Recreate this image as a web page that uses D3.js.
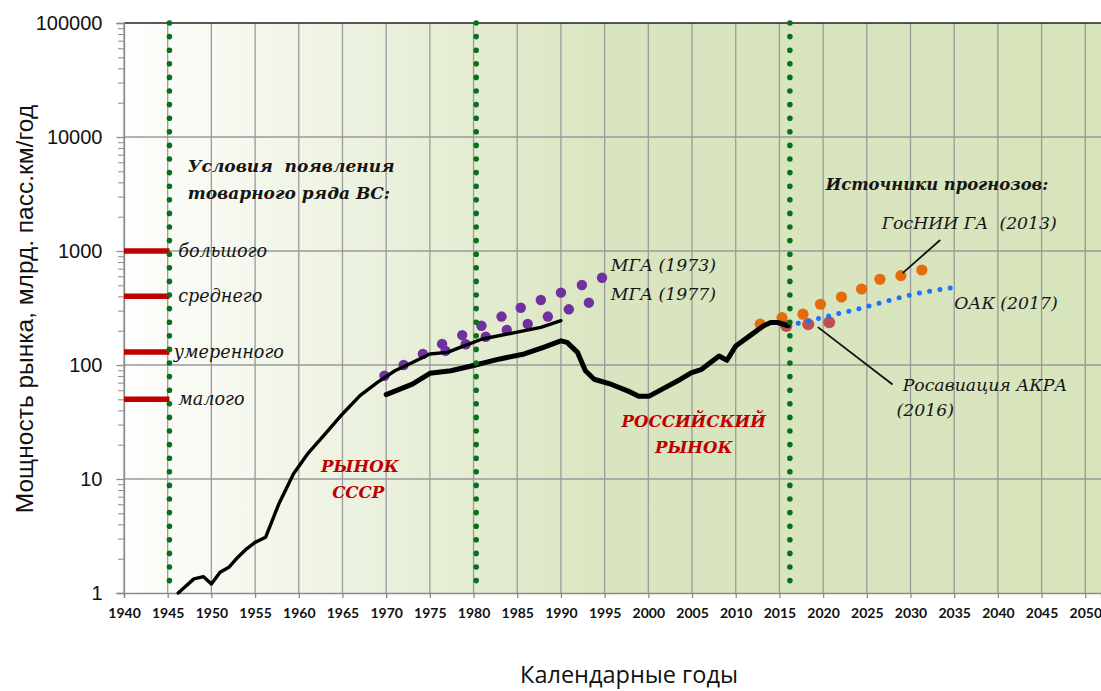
<!DOCTYPE html>
<meta charset="utf-8">
<style>
  body { margin: 0; background: #fff; }
  text { white-space: pre; }
</style>

<body>
  <script src="https://d3js.org/d3.v7.min.js"></script>
  <script>
    // axis ticks
    var yearTicks = d3.range(1940, 2051, 5);
    var valueTicks = [1, 10, 100, 1000, 10000, 100000];

    // USSR market (thin black line)
    var ussrYears = [1946.2, 1948, 1949.1, 1950, 1951, 1952, 1953, 1954, 1955, 1956.2, 1957.7, 1959.4, 1961, 1963, 1965, 1967, 1969, 1971, 1973, 1975, 1977, 1979, 1981, 1985, 1987.7, 1990];
    var ussrValues = [1.0, 1.33, 1.39, 1.2, 1.52, 1.68, 2.05, 2.43, 2.78, 3.08, 6.0, 11.1, 16.6, 24.8, 37.2, 53.8, 70.5, 89, 105, 125, 129, 148, 169, 194, 214, 245];

    // Russian market (thick black line)
    var russiaYears = [1970, 1973, 1975, 1977.4, 1980, 1983, 1985.8, 1988, 1990, 1990.7, 1991.9, 1992.8, 1993.8, 1995.8, 1997.7, 1998.9, 2000.1, 2001.7, 2003.7, 2004.9, 2006.1, 2007.3, 2008.1, 2009, 2010, 2011.6, 2013.2, 2014, 2014.8, 2016];
    var russiaValues = [55, 68, 84.5, 89, 99, 113, 125, 143, 163, 158, 129, 89, 75, 67.5, 59, 53.3, 53.3, 62, 75, 85.5, 91.6, 108, 120, 110, 147, 180, 221, 236, 236, 221];

    // forecasts
    var mga1973Years = [1969.8, 1972, 1974.2, 1976.4, 1978.7, 1980.9, 1983.2, 1985.4, 1987.7, 1990, 1992.4, 1994.7];
    var mga1973Values = [80.5, 100, 125, 153, 183, 221, 266, 318, 372, 431, 503, 583];
    var mga1977Years = [1976.8, 1979.1, 1981.4, 1983.8, 1986.2, 1988.5, 1990.9, 1993.2];
    var mga1977Values = [133, 152, 177, 203, 229, 266, 308, 352];
    var gosniiYears = [2012.8, 2015.3, 2017.7, 2019.7, 2022.1, 2024.4, 2026.5, 2028.9, 2031.3];
    var gosniiValues = [228, 260, 279, 341, 395, 464, 565, 608, 681];
    var rosavYears = [2015.8, 2018.3, 2020.7];
    var rosavValues = [220, 228, 237];
    var oakYears = [2016, 2020, 2025, 2030, 2035.3];
    var oakValues = [222, 262, 325, 412, 482];

    // product line conditions
    var levelNames = ["большого", "среднего", "умеренного", "малого"];
    var levelValues = [1000, 400, 130, 50];

    // period borders
    var borderYears = [1945.2, 1980.3, 2016.2];

    var margin = {top: 23, right: 0, bottom: 98, left: 124},
      width = 1101 - margin.left - margin.right,
      height = 691 - margin.top - margin.bottom;

    var svg = d3.select("body").append("svg")
      .attr("width", 1101)
      .attr("height", 691);

    var x = d3.scaleLinear().domain([1940, 2051.8]).range([0, width]),
      y = d3.scaleLog().domain([1, 100000]).range([height, 0]);

    var grad = svg.append("defs").append("linearGradient")
      .attr("id", "bg").attr("x1", 0).attr("x2", 1).attr("y1", 0).attr("y2", 0);
    grad.append("stop").attr("offset", 0).attr("stop-color", "#fefefd");
    grad.append("stop").attr("offset", 0.5).attr("stop-color", "#d9e5c0");
    grad.append("stop").attr("offset", 1).attr("stop-color", "#d7e4bc");

    var g = svg.append("g")
      .attr("transform", "translate(" + margin.left + "," + margin.top + ")");

    g.append("rect")
      .attr("width", width).attr("height", height)
      .style("fill", "url(#bg)");

    // grid
    g.selectAll(".vgrid").data(yearTicks).enter().append("line")
      .attr("x1", d => x(d)).attr("x2", d => x(d))
      .attr("y1", 0).attr("y2", height)
      .style("stroke", "#9a9a9a").style("stroke-width", 1.3);
    g.selectAll(".hgrid").data(valueTicks.slice(1, -1)).enter().append("line")
      .attr("x1", 0).attr("x2", width)
      .attr("y1", d => y(d)).attr("y2", d => y(d))
      .style("stroke", "#9a9a9a").style("stroke-width", 1.3);
    g.append("line")
      .attr("x1", 0).attr("x2", width).attr("y1", 0).attr("y2", 0)
      .style("stroke", "#222").style("stroke-width", 1.5);

    // minor y ticks
    var minor = [];
    valueTicks.slice(0, -1).forEach(function(d) {
      for (var k = 2; k < 10; k++) minor.push(d * k);
    });
    g.append("g")
      .call(d3.axisLeft(y).tickValues(minor).tickSize(6).tickFormat(""))
      .call(a => a.select(".domain").remove())
      .call(a => a.selectAll("line").style("stroke", "#8a8a8a"));

    // y axis
    g.append("g")
      .call(d3.axisLeft(y).tickValues(valueTicks).tickSize(7.5).tickPadding(14)
        .tickFormat(d3.format("d")))
      .call(a => a.select(".domain").style("stroke", "#8a8a8a").style("stroke-width", 1.3))
      .call(a => a.selectAll("line").style("stroke", "#8a8a8a").style("stroke-width", 1.3))
      .call(a => a.selectAll("text")
        .style("font", "20px 'Liberation Sans', Arial, sans-serif").style("fill", "#111"));

    // x axis
    g.append("g")
      .attr("transform", "translate(0," + height + ")")
      .call(d3.axisBottom(x).tickValues(yearTicks).tickSize(5).tickFormat(d3.format("d")))
      .call(a => a.select(".domain").style("stroke", "#8a8a8a").style("stroke-width", 1.3))
      .call(a => a.selectAll("line").style("stroke", "#8a8a8a").style("stroke-width", 1.3))
      .call(a => a.selectAll("text").attr("y", 20).attr("dy", "0.35em")
        .style("font", "bold 14px Lato, 'Open Sans', sans-serif").style("fill", "#111"));

    // red condition bars
    g.selectAll(".level").data(levelValues).enter().append("line")
      .attr("x1", x(1940)).attr("x2", x(1945.2))
      .attr("y1", d => y(d)).attr("y2", d => y(d))
      .style("stroke", "#c00000").style("stroke-width", 5.5);

    function dots(xs, vs, r, color) {
      g.selectAll(null).data(xs).enter().append("circle")
        .attr("cx", d => x(d))
        .attr("cy", (d, i) => y(vs[i]))
        .attr("r", r)
        .style("fill", color);
    }
    dots(mga1973Years, mga1973Values, 5.2, "#7030a0");
    dots(mga1977Years, mga1977Values, 5.2, "#7030a0");
    dots(gosniiYears, gosniiValues, 5.6, "#e46c0a");
    dots(rosavYears, rosavValues, 6, "#c0504d");

    var line = d3.line()
      .x(d => x(d[0]))
      .y(d => y(d[1]))
      .curve(d3.curveMonotoneX);

    g.append("path")
      .datum(d3.zip(oakYears, oakValues))
      .attr("d", line)
      .style("fill", "none").style("stroke", "#1a73ff")
      .style("stroke-width", 5).style("stroke-linecap", "round")
      .style("stroke-dasharray", "0 10.4");

    g.append("path")
      .datum(d3.zip(ussrYears, ussrValues))
      .attr("d", line.curve(d3.curveLinear))
      .style("fill", "none").style("stroke", "#000")
      .style("stroke-width", 3.4).style("stroke-linejoin", "round").style("stroke-linecap", "round");

    g.append("path")
      .datum(d3.zip(russiaYears, russiaValues))
      .attr("d", line)
      .style("fill", "none").style("stroke", "#000")
      .style("stroke-width", 5).style("stroke-linejoin", "round").style("stroke-linecap", "round");

    // period borders
    g.selectAll(".border").data(borderYears).enter().append("line")
      .attr("x1", d => x(d)).attr("x2", d => x(d))
      .attr("y1", 0).attr("y2", height - 8)
      .style("stroke", "#0a6e1c").style("stroke-width", 5.6)
      .style("stroke-linecap", "round").style("stroke-dasharray", "0 13.6");

    // leader lines
    var leaders = [[2033.4, 1248, 2029.1, 640], [2019.4, 215, 2027.95, 67.5]];
    g.selectAll(".leader").data(leaders).enter().append("line")
      .attr("x1", d => x(d[0])).attr("y1", d => y(d[1]))
      .attr("x2", d => x(d[2])).attr("y2", d => y(d[3]))
      .style("stroke", "#111").style("stroke-width", 1.8);

    // texts
    var serif = "'DejaVu Serif', serif";
    function note(t, yr, v, opts) {
      g.append("text")
        .attr("x", x(yr)).attr("y", y(v))
        .attr("dominant-baseline", "central")
        .attr("text-anchor", opts.anchor || "start")
        .style("font-family", serif)
        .style("font-style", "italic")
        .style("font-weight", opts.bold ? "bold" : "normal")
        .style("font-size", (opts.size || 17.3) + "px")
        .style("fill", opts.color || "#151515")
        .text(t);
    }
    note("Условия  появления", 1947.3, 5570, {bold: true, size: 17});
    note("товарного ряда ВС:", 1947.3, 3226, {bold: true, size: 17});
    levelNames.forEach(function(t, i) {
      note(t, i == 2 ? 1945.7 : 1946.2, levelValues[i], {size: 17.6});
    });
    note("МГА (1973)", 1995.7, 754, {});
    note("МГА (1977)", 1995.7, 420, {});
    note("Источники прогнозов:", 2020.3, 3870, {bold: true, size: 16.4});
    note("ГосНИИ ГА  (2013)", 2026.7, 1761, {});
    note("ОАК (2017)", 2035.0, 350, {});
    note("Росавиация АКРА", 2029.1, 66.8, {});
    note("(2016)", 2028.4, 40.3, {});
    note("РЫНОК", 1967.0, 13.0, {bold: true, color: "#c00000", anchor: "middle", size: 16.6});
    note("СССР", 1966.8, 7.69, {bold: true, color: "#c00000", anchor: "middle", size: 16.6});
    note("РОССИЙСКИЙ", 2005.2, 32.3, {bold: true, color: "#c00000", anchor: "middle", size: 16.6});
    note("РЫНОК", 2005.2, 19.1, {bold: true, color: "#c00000", anchor: "middle", size: 16.6});

    // axis titles
    svg.append("text")
      .attr("transform", "translate(33,309) rotate(-90)")
      .attr("text-anchor", "middle")
      .style("font", "24.5px 'Liberation Sans', Arial, sans-serif")
      .style("fill", "#111")
      .text("Мощность рынка, млрд. пасс.км/год");

    svg.append("text")
      .attr("x", 629).attr("y", 683)
      .attr("text-anchor", "middle")
      .style("font", "23.5px 'Open Sans', sans-serif")
      .style("fill", "#111")
      .text("Календарные годы");
  </script>
</body>

</html>
